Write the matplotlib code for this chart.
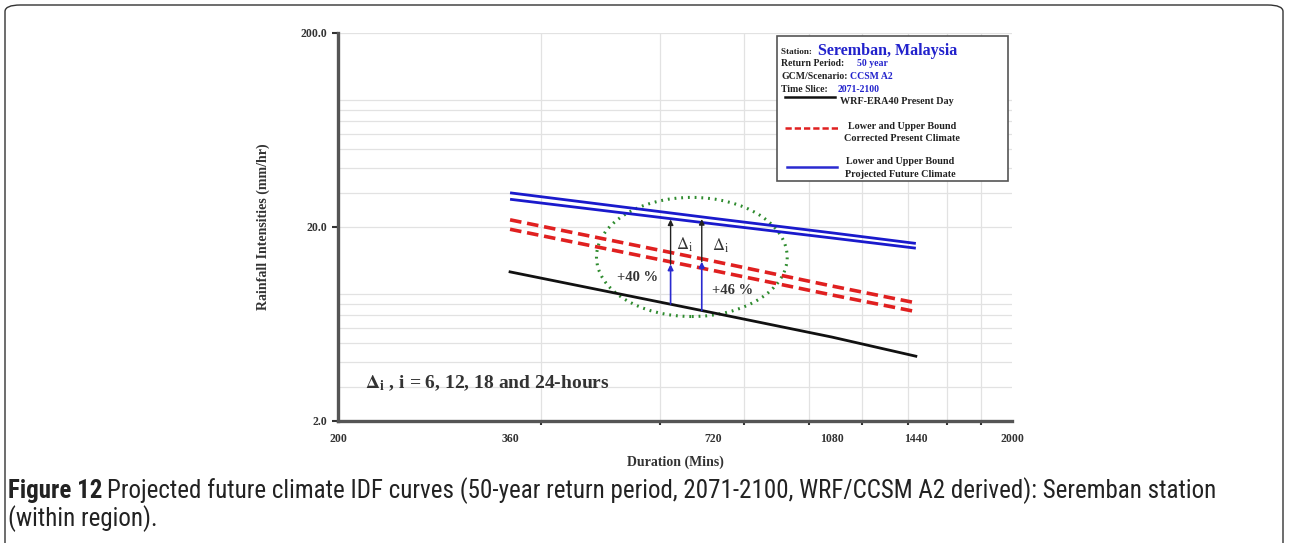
import numpy as np
import matplotlib
matplotlib.use("Agg")
import matplotlib.pyplot as plt
from matplotlib.patches import Ellipse, FancyBboxPatch, Rectangle
from matplotlib.lines import Line2D
from matplotlib.ticker import FixedLocator, NullFormatter

# durations (mins) and intensities (mm/hr)
duration = [360, 720, 1080, 1440]
wrf_present = [11.7, 7.2, 5.4, 4.3]
corr_upper = [21.7, 13.3, 9.9, 8.1]
corr_lower = [19.4, 11.9, 8.9, 7.3]
fut_upper = [29.9, 22.1, 18.6, 16.4]
fut_lower = [27.7, 20.7, 17.5, 15.5]

# delta arrows: x, black line, corrected line, future line
arrow_x = [623, 693]
arrow_base = [8.0, 7.4]
arrow_mid = [12.8, 13.2]
arrow_top = [21.8, 21.9]
pct_labels = ["+40 %", "+46 %"]
pct_pos = [(557, 11.0), (771, 9.4)]
delta_pos = [(634, 16.1), (718, 15.9)]

xtick_vals = [200, 360, 720, 1080, 1440, 2000]
xminor = [400, 600, 800, 1000, 1200, 1400, 1600, 1800]
ytick_vals = [2, 20, 200]
ytick_labels = ["2.0", "20.0", "200.0"]

W, H = 1289, 543
plt.rcParams['font.family'] = ['Liberation Serif', 'DejaVu Serif']
plt.rcParams['mathtext.fontset'] = 'stix'

fig = plt.figure(figsize=(W / 100, H / 100), dpi=100)

def fx(x):
    return x / W

def fy(y):
    return 1 - y / H

# outer rounded frame
frame = FancyBboxPatch((fx(5), fy(560)), fx(1278), (560 - 5) / H,
                       boxstyle="round,pad=0,rounding_size=0.012",
                       transform=fig.transFigure, fill=False,
                       edgecolor='#333333', linewidth=1.0, clip_on=False)
fig.patches.append(frame)

ax = fig.add_axes([fx(338), fy(420.7), fx(1012 - 338), (420.7 - 32.7) / H])
ax.set_xscale('log')
ax.set_yscale('log')
ax.set_xlim(200, 2000)
ax.set_ylim(2, 200)

ax.plot(duration, fut_upper, color='#1a1acc', lw=2.0, solid_capstyle='butt')
ax.plot(duration, fut_lower, color='#1a1acc', lw=2.0, solid_capstyle='butt')
ax.plot(duration, corr_upper, color='#e02020', lw=2.6, ls=(0, (3.2, 1.6)))
ax.plot(duration, corr_lower, color='#e02020', lw=2.6, ls=(0, (3.2, 1.6)))
ax.plot(duration, wrf_present, color='#111111', lw=2.0)

# delta arrows
for i in range(len(arrow_x)):
    ax.annotate("", xy=(arrow_x[i], arrow_mid[i]), xytext=(arrow_x[i], arrow_base[i]),
                arrowprops=dict(arrowstyle='-|>', color='#2a2ad0', lw=1.2,
                                mutation_scale=8, shrinkA=0, shrinkB=0))
    ax.annotate("", xy=(arrow_x[i], arrow_top[i]), xytext=(arrow_x[i], arrow_mid[i]),
                arrowprops=dict(arrowstyle='-|>', color='#222222', lw=1.0,
                                mutation_scale=8, shrinkA=0, shrinkB=0))
    ax.text(delta_pos[i][0], delta_pos[i][1], r'$\Delta_{\rm i}$', fontsize=12,
            color='#333333', ha='left', va='center')
    ax.text(pct_pos[i][0], pct_pos[i][1], pct_labels[i], fontsize=10.5,
            fontweight='bold', color='#333333', ha='center', va='center')

ell = Ellipse((0.525, 0.422), 0.283, 0.307, transform=ax.transAxes, fill=False,
              edgecolor='#2e8b2e', lw=2.2, ls=(0, (0.6, 1.6)))
ax.add_patch(ell)

ax.text(fx(365 - 338) / fx(674), (420.7 - 383) / 388,
        r'$\mathbf{\Delta_{i}}$ , i = 6, 12, 18 and 24-hours', transform=ax.transAxes,
        fontsize=14, fontweight='bold', color='#333333', ha='left', va='center')

# axes styling
for s in ['top', 'right']:
    ax.spines[s].set_visible(False)
for s in ['left', 'bottom']:
    ax.spines[s].set_linewidth(2.4)
    ax.spines[s].set_color('#555555')

ax.xaxis.set_major_locator(FixedLocator(xtick_vals))
ax.set_xticklabels([str(v) for v in xtick_vals])
ax.xaxis.set_minor_locator(FixedLocator(xminor))
ax.xaxis.set_minor_formatter(NullFormatter())
ax.tick_params(axis='x', which='major', length=0, pad=9, labelsize=8.5)
ax.tick_params(axis='x', which='minor', length=3, width=1.5, color='#333333')
ax.yaxis.set_major_locator(FixedLocator(ytick_vals))
ax.set_yticklabels(ytick_labels)
ax.tick_params(axis='y', which='major', length=4, width=1.5, color='#333333',
               labelsize=8.5, pad=4)
ax.tick_params(axis='y', which='minor', length=0)
ax.tick_params(axis='y', which='minor', labelleft=False)
for lab in ax.get_xticklabels() + ax.get_yticklabels():
    lab.set_fontweight('bold')
    lab.set_color('#333333')

ax.yaxis.grid(True, which='both', color='#e2e2e2', lw=0.9)
ax.xaxis.grid(True, which='minor', color='#e2e2e2', lw=0.9)
ax.set_axisbelow(True)

ax.set_ylabel("Rainfall Intensities (mm/hr)", fontsize=10, fontweight='bold',
              color='#333333', labelpad=22)
fig.text(fx(675), fy(462), "Duration (Mins)", fontsize=10, fontweight='bold',
         color='#333333', ha='center', va='center')

# legend box
fig.patches.append(Rectangle((fx(777), fy(181)), fx(1008 - 777), (181 - 36) / H,
                             transform=fig.transFigure, fill=True, facecolor='white',
                             edgecolor='#555555', lw=1.2, zorder=5))
tb = dict(fontweight='bold', color='#222222', fontsize=7.3, va='center', zorder=6)
th = dict(tb, fontsize=7.0)
blue = '#2222cc'
fig.text(fx(781), fy(52), "Station: ", **dict(th, fontsize=6.6))
fig.text(fx(818), fy(51), "Seremban, Malaysia", fontweight='bold', color=blue,
         fontsize=11.5, va='center', zorder=6)
fig.text(fx(781), fy(64), "Return Period:", **th)
fig.text(fx(857), fy(64), "50 year", **dict(th, color=blue))
fig.text(fx(781), fy(76.7), "GCM/Scenario:", **th)
fig.text(fx(850), fy(76.7), "CCSM A2", **dict(th, color=blue))
fig.text(fx(781), fy(89), "Time Slice:", **th)
fig.text(fx(838), fy(89), "2071-2100", **dict(th, color=blue))

fig.lines.append(Line2D([fx(785), fx(835)], [fy(96.7), fy(96.7)], transform=fig.transFigure,
                        color='#111111', lw=1.8, zorder=6))
fig.text(fx(840), fy(101), "WRF-ERA40 Present Day", **tb)
fig.lines.append(Line2D([fx(785), fx(838)], [fy(128.3), fy(128.3)], transform=fig.transFigure,
                        color='#e02020', lw=1.8, ls=(0, (2.5, 1.2)), zorder=6))
fig.text(fx(902), fy(126.7), "Lower and Upper Bound", ha='center', **tb)
fig.text(fx(902), fy(138.3), "Corrected Present Climate", ha='center', **tb)
fig.lines.append(Line2D([fx(787), fx(837)], [fy(166.7), fy(166.7)], transform=fig.transFigure,
                        color='#2a2ad0', lw=1.8, zorder=6))
fig.text(fx(900), fy(162), "Lower and Upper Bound", ha='center', **tb)
fig.text(fx(900), fy(174), "Projected Future Climate", ha='center', **tb)

# caption
cap = dict(fontsize=18, color='#222222', va='center',
           family=['Roboto Condensed', 'Roboto', 'DejaVu Sans'])
head = fig.text(fx(8), fy(491), "Figure 12", fontweight='bold', **cap)
fig.canvas.draw()
bb = head.get_window_extent(fig.canvas.get_renderer())
fig.text(bb.x1 / W + fx(5), fy(491), "Projected future climate IDF curves (50-year return period, "
         "2071-2100, WRF/CCSM A2 derived): Seremban station", **cap)
fig.text(fx(8), fy(519), "(within region).", **cap)

fig.savefig("out.png", dpi=100)
